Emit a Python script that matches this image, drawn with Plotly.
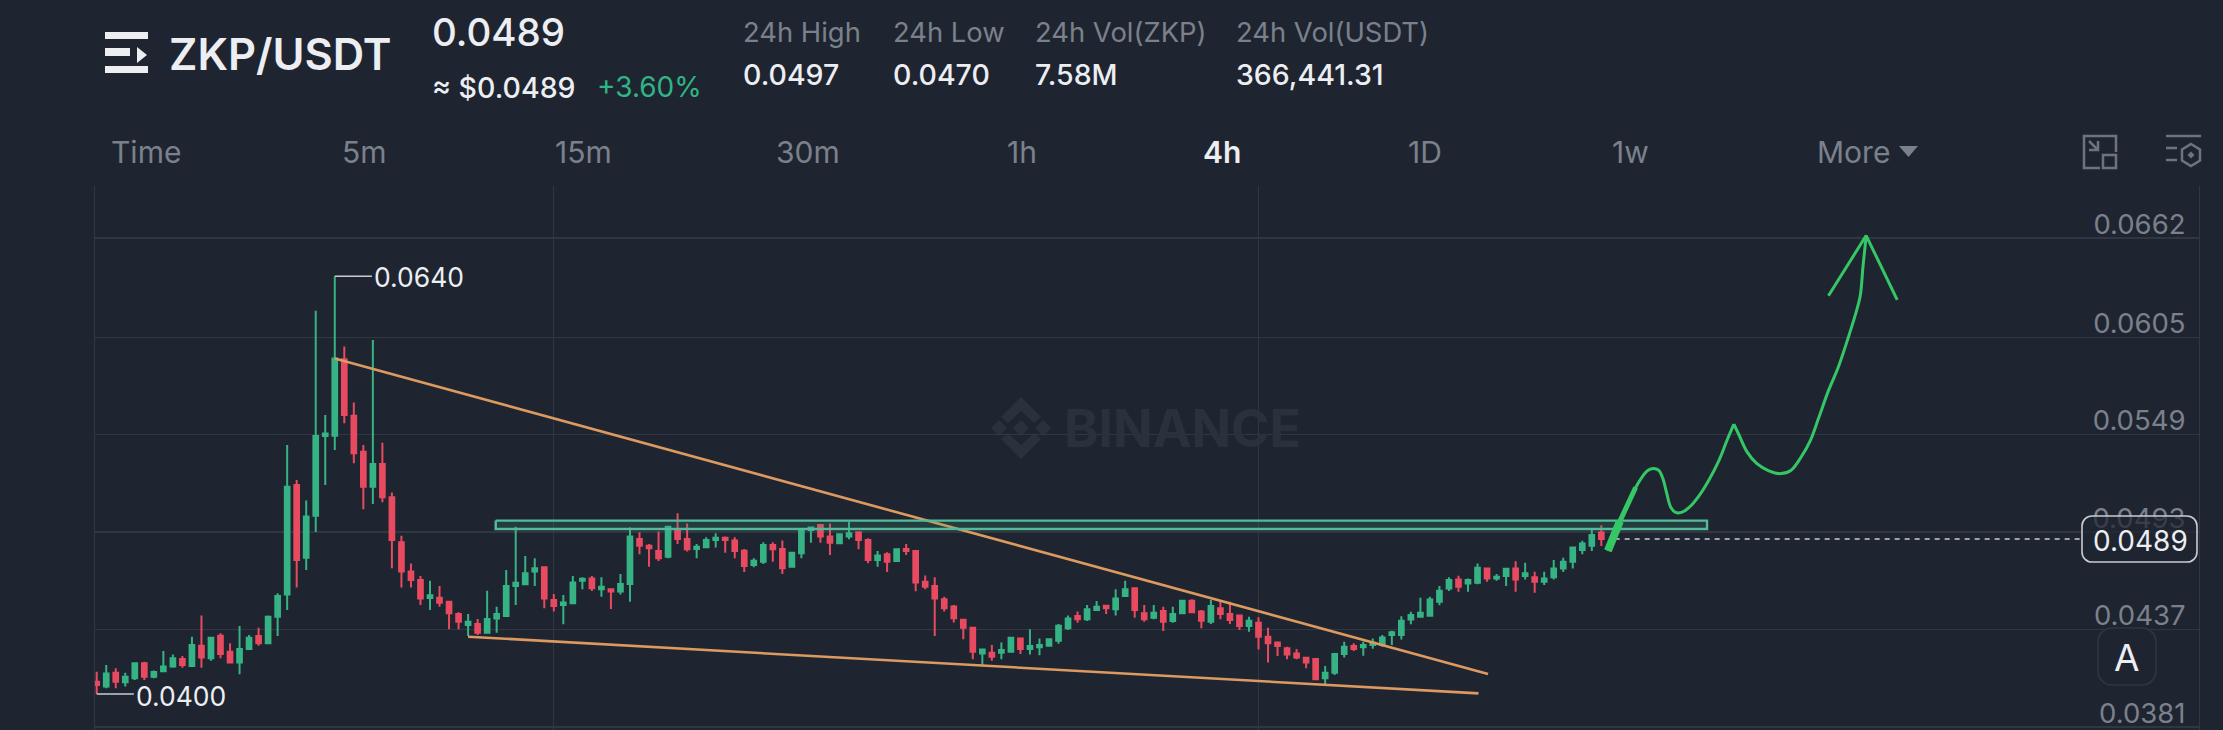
import plotly.graph_objects as go

# ---------- data ----------
candle_open = [
0.04070,0.04042,0.04122,0.04067,0.04090,0.04176,0.04099,0.04130,0.04157,0.04201,
0.04160,0.04277,0.04205,0.04335,0.04243,0.04180,0.04258,0.04333,0.04291,0.04444,
0.04572,0.05201,0.04783,0.05024,0.05482,0.05484,0.05923,0.05599,0.05392,0.05191,
0.05321,0.05130,0.04871,0.04703,0.04655,0.04551,0.04553,0.04530,0.04459,0.04396,
0.04402,0.04352,0.04434,0.04448,0.04620,0.04630,0.04703,0.04728,0.04540,0.04511,
0.04521,0.04651,0.04664,0.04601,0.04601,0.04588,0.04632,0.04890,0.04852,0.04821,
0.04789,0.04938,0.04890,0.04833,0.04843,0.04885,0.04898,0.04881,0.04823,0.04741,
0.04760,0.04856,0.04833,0.04731,0.04808,0.04942,0.04971,0.04904,0.04866,0.04904,
0.04929,0.04885,0.04770,0.04802,0.04764,0.04833,0.04821,0.04645,0.04620,0.04544,
0.04502,0.04427,0.04381,0.04233,0.04237,0.04237,0.04243,0.04319,0.04258,0.04268,
0.04277,0.04306,0.04377,0.04448,0.04429,0.04482,0.04507,0.04486,0.04563,0.04607,
0.04463,0.04438,0.04476,0.04419,0.04463,0.04536,0.04473,0.04415,0.04492,0.04459,
0.04450,0.04390,0.04409,0.04329,0.04296,0.04262,0.04233,0.04208,0.04201,0.04090,
0.04122,0.04229,0.04275,0.04268,0.04281,0.04281,0.04338,0.04338,0.04428,0.04444,
0.04449,0.04530,0.04606,0.04658,0.04635,0.04639,0.04721,0.04664,0.04677,0.04721,
0.04677,0.04670,0.04645,0.04670,0.04721,0.04760,0.04827,0.04852,0.04928]
candle_close = [
0.04051,0.04118,0.04070,0.04099,0.04176,0.04099,0.04126,0.04157,0.04205,0.04166,
0.04281,0.04210,0.04323,0.04229,0.04180,0.04258,0.04323,0.04291,0.04444,0.04563,
0.05191,0.04770,0.05019,0.05482,0.05497,0.05928,0.05603,0.05383,0.05191,0.05321,
0.05130,0.04884,0.04703,0.04655,0.04549,0.04567,0.04524,0.04463,0.04415,0.04415,
0.04352,0.04431,0.04459,0.04620,0.04639,0.04693,0.04722,0.04549,0.04505,0.04526,
0.04641,0.04662,0.04607,0.04616,0.04588,0.04632,0.04904,0.04852,0.04837,0.04779,
0.04961,0.04890,0.04831,0.04846,0.04885,0.04898,0.04885,0.04821,0.04735,0.04766,
0.04856,0.04831,0.04722,0.04812,0.04946,0.04956,0.04904,0.04869,0.04917,0.04923,
0.04885,0.04770,0.04795,0.04760,0.04831,0.04821,0.04641,0.04616,0.04549,0.04492,
0.04435,0.04381,0.04243,0.04256,0.04214,0.04252,0.04323,0.04258,0.04275,0.04281,
0.04314,0.04392,0.04434,0.04429,0.04486,0.04501,0.04492,0.04549,0.04601,0.04482,
0.04429,0.04467,0.04415,0.04459,0.04536,0.04469,0.04421,0.04505,0.04459,0.04425,
0.04390,0.04421,0.04329,0.04291,0.04275,0.04227,0.04210,0.04181,0.04084,0.04122,
0.04229,0.04271,0.04258,0.04281,0.04294,0.04325,0.04354,0.04421,0.04453,0.04467,
0.04543,0.04593,0.04654,0.04616,0.04654,0.04725,0.04664,0.04673,0.04719,0.04658,
0.04693,0.04645,0.04664,0.04721,0.04760,0.04842,0.04865,0.04913,0.04890]
candle_high = [
0.04128,0.04166,0.04147,0.04122,0.04180,0.04185,0.04134,0.04247,0.04227,0.04218,
0.04329,0.04450,0.04323,0.04348,0.04291,0.04390,0.04339,0.04381,0.04450,0.04578,
0.05430,0.05229,0.05111,0.06202,0.05603,0.06400,0.05996,0.05674,0.05430,0.06034,
0.05444,0.05158,0.04909,0.04750,0.04678,0.04651,0.04620,0.04530,0.04469,0.04459,
0.04431,0.04593,0.04501,0.04712,0.04961,0.04793,0.04779,0.04731,0.04574,0.04569,
0.04678,0.04670,0.04678,0.04670,0.04607,0.04689,0.04957,0.04929,0.04862,0.04933,
0.04967,0.05038,0.04980,0.04862,0.04900,0.04923,0.04904,0.04900,0.04833,0.04779,
0.04871,0.04871,0.04881,0.04812,0.04952,0.04961,0.04971,0.04980,0.04923,0.04990,
0.04933,0.04894,0.04821,0.04814,0.04831,0.04862,0.04821,0.04680,0.04670,0.04559,
0.04511,0.04430,0.04383,0.04260,0.04281,0.04296,0.04329,0.04323,0.04371,0.04319,
0.04319,0.04402,0.04450,0.04473,0.04511,0.04534,0.04511,0.04601,0.04651,0.04612,
0.04511,0.04511,0.04501,0.04501,0.04540,0.04544,0.04482,0.04540,0.04530,0.04530,
0.04450,0.04444,0.04440,0.04381,0.04300,0.04271,0.04258,0.04214,0.04201,0.04160,
0.04229,0.04300,0.04291,0.04300,0.04319,0.04338,0.04363,0.04447,0.04472,0.04553,
0.04559,0.04620,0.04670,0.04679,0.04664,0.04750,0.04721,0.04689,0.04721,0.04763,
0.04754,0.04702,0.04702,0.04769,0.04783,0.04842,0.04880,0.04942,0.04970]
candle_low = [
0.04000,0.04032,0.04032,0.04042,0.04080,0.04080,0.04090,0.04126,0.04151,0.04151,
0.04157,0.04151,0.04191,0.04205,0.04176,0.04113,0.04252,0.04277,0.04287,0.04333,
0.04482,0.04611,0.04712,0.04930,0.05201,0.05402,0.05555,0.05325,0.05061,0.05091,
0.05101,0.04722,0.04611,0.04612,0.04511,0.04482,0.04501,0.04371,0.04371,0.04333,
0.04339,0.04348,0.04352,0.04444,0.04511,0.04626,0.04620,0.04492,0.04473,0.04400,
0.04517,0.04601,0.04592,0.04559,0.04488,0.04572,0.04530,0.04802,0.04731,0.04764,
0.04779,0.04862,0.04818,0.04779,0.04841,0.04841,0.04812,0.04779,0.04701,0.04728,
0.04747,0.04760,0.04689,0.04731,0.04779,0.04869,0.04869,0.04798,0.04860,0.04889,
0.04831,0.04751,0.04731,0.04701,0.04764,0.04798,0.04590,0.04601,0.04333,0.04473,
0.04410,0.04314,0.04199,0.04166,0.04191,0.04199,0.04239,0.04229,0.04227,0.04222,
0.04271,0.04289,0.04367,0.04409,0.04419,0.04476,0.04459,0.04450,0.04559,0.04438,
0.04415,0.04429,0.04362,0.04409,0.04459,0.04463,0.04377,0.04402,0.04429,0.04402,
0.04367,0.04358,0.04256,0.04180,0.04218,0.04199,0.04199,0.04147,0.04080,0.04057,
0.04109,0.04210,0.04247,0.04220,0.04260,0.04271,0.04281,0.04313,0.04400,0.04440,
0.04447,0.04509,0.04591,0.04587,0.04587,0.04631,0.04645,0.04650,0.04620,0.04587,
0.04658,0.04581,0.04626,0.04658,0.04700,0.04721,0.04802,0.04821,0.04850]
candle_index = list(range(len(candle_open)))

price_ticks = [0.0662, 0.0605, 0.0549, 0.0493, 0.0437, 0.0381]
time_grid = [48, 122]
last_price = 0.0489
high_mark = 0.0640
low_mark = 0.0400

trend_upper_x = [25, 146.1]
trend_upper_y = [0.05928, 0.04114]
trend_lower_x = [39, 145.1]
trend_lower_y = [0.04329, 0.04003]

zone_x = [41.9, 169.1, 169.1, 41.9, 41.9]
zone_y = [0.04996, 0.04996, 0.04948, 0.04948, 0.04996]

path_x = [158.69,159.32,159.95,160.78,161.61,162.24,162.87,163.49,164.03,164.45,164.87,165.29,
          165.79,166.41,167.25,168.29,169.33,170.38,171.21,171.92]
path_y = [0.04823,0.04914,0.04993,0.05084,0.05186,0.05243,0.05284,0.05295,0.05284,0.05239,0.05152,0.05073,
          0.05043,0.05043,0.05073,0.05141,0.05232,0.05345,0.05459,0.05550]
path2_x = [171.92,172.46,173.30,174.34,175.59,176.84,177.89,178.93,179.97,180.81,181.85,182.89,183.94,
           184.77,185.19,185.48,185.81]
path2_y = [0.05550,0.05488,0.05391,0.05323,0.05282,0.05266,0.05284,0.05357,0.05459,0.05584,0.05743,0.05879,0.06050,
           0.06197,0.06288,0.06459,0.06629]
arrow_x = [181.85, 185.81, 189.07]
arrow_y = [0.06288, 0.06634, 0.06265]
thick_x = [158.69, 159.32, 159.95]
thick_y = [0.04823, 0.04914, 0.04993]
mid_x = [158.69, 159.95, 161.6]
mid_y = [0.04823, 0.04993, 0.05186]

header_quote = "ZKP/USDT"
header_price = "0.0489"
header_usd = "≈ $0.0489"
header_change = "+3.60%"
stat_titles = ["24h High", "24h Low", "24h Vol(ZKP)", "24h Vol(USDT)"]
stat_values = ["0.0497", "0.0470", "7.58M", "366,441.31"]
tabs = ["Time", "5m", "15m", "30m", "1h", "4h", "1D", "1w", "More"]

# ---------- style ----------
BG = "#1f2530"
GRID = "#303742"
UP = "#36b384"
DOWN = "#e84a60"
ORANGE = "#dd9a60"
DRAW = "#35c765"
WHITE = "#eceef2"
GREY = "#7b818c"
FONT = "Inter"

W, H = 2223, 730
L, R, T, B = 95, 2199, 186, 730
px_per_bar = 9.523
px_per_price = 17402.0

def X(p):
    return (p - L) / (R - L)

def Y(p):
    return 1 - (p - T) / (B - T)

def path(points, close=True):
    d = "M" + " L".join(f"{X(a):.5f},{Y(b):.5f}" for a, b in points)
    return d + (" Z" if close else "")

def round_rect(x0, y0, x1, y1, r):
    c = 0.45 * r
    pts = [
        f"M{X(x0+r):.5f},{Y(y0):.5f}", f"L{X(x1-r):.5f},{Y(y0):.5f}",
        f"C{X(x1-c):.5f},{Y(y0):.5f} {X(x1):.5f},{Y(y0+c):.5f} {X(x1):.5f},{Y(y0+r):.5f}",
        f"L{X(x1):.5f},{Y(y1-r):.5f}",
        f"C{X(x1):.5f},{Y(y1-c):.5f} {X(x1-c):.5f},{Y(y1):.5f} {X(x1-r):.5f},{Y(y1):.5f}",
        f"L{X(x0+r):.5f},{Y(y1):.5f}",
        f"C{X(x0+c):.5f},{Y(y1):.5f} {X(x0):.5f},{Y(y1-c):.5f} {X(x0):.5f},{Y(y1-r):.5f}",
        f"L{X(x0):.5f},{Y(y0+r):.5f}",
        f"C{X(x0):.5f},{Y(y0+c):.5f} {X(x0+c):.5f},{Y(y0):.5f} {X(x0+r):.5f},{Y(y0):.5f} Z",
    ]
    return " ".join(pts)

fig = go.Figure()

fig.add_trace(go.Candlestick(
    x=candle_index, open=candle_open, high=candle_high, low=candle_low, close=candle_close,
    increasing=dict(line=dict(color=UP, width=2), fillcolor=UP),
    decreasing=dict(line=dict(color=DOWN, width=2), fillcolor=DOWN),
    whiskerwidth=0, hoverinfo="skip",
))

def line(x, y, color, width, dash=None, shape="linear", **kw):
    fig.add_trace(go.Scatter(x=x, y=y, mode="lines", hoverinfo="skip",
                             line=dict(color=color, width=width, dash=dash, shape=shape), **kw))

line(trend_upper_x, trend_upper_y, ORANGE, 2.6)
line(trend_lower_x, trend_lower_y, ORANGE, 2.6)
line(zone_x, zone_y, "#57b99c", 2.4, fill="toself", fillcolor="rgba(50,170,130,0.18)")
line([candle_index[-1] + 1.4, 208.5], [last_price, last_price], "#c9ccd2", 1.6, dash="5px,5px")
line([25, 28.9], [high_mark, high_mark], "#c9ccd2", 1.6)
line([0, 3.9], [low_mark, low_mark], "#c9ccd2", 1.6)
line(path_x, path_y, DRAW, 3, shape="spline")
line(path2_x, path2_y, DRAW, 3, shape="spline")
line(arrow_x, arrow_y, DRAW, 3)
line(mid_x, mid_y, DRAW, 5)
line(thick_x, thick_y, DRAW, 8)

fig.update_layout(
    width=W, height=H, autosize=False, showlegend=False,
    paper_bgcolor=BG, plot_bgcolor=BG, boxgap=0.3,
    margin=dict(l=L, r=W - R, t=T, b=H - B, pad=0),
    font=dict(family=FONT, color=WHITE),
    xaxis=dict(range=[(L - 96.7) / px_per_bar, (R - 96.7) / px_per_bar],
               tickvals=time_grid, showticklabels=False, ticks="",
               showgrid=True, gridcolor=GRID, gridwidth=1.2, zeroline=False, showline=False,
               rangeslider=dict(visible=False), fixedrange=True),
    yaxis=dict(range=[0.0662 - (B - 238) / px_per_price, 0.0662 + (238 - T) / px_per_price],
               side="right", tickvals=price_ticks, tickformat=".4f",
               ticklabelposition="inside", ticklabelstandoff=16, ticklabelshift=-14,
               tickfont=dict(size=27.5, color=GREY, family=FONT), ticks="",
               showgrid=True, gridcolor=GRID, gridwidth=1.2, zeroline=False,
               showline=True, mirror=True, linecolor=GRID, linewidth=1.2, fixedrange=True),
)

def text(s, px, py, size, color=WHITE, anchor="left", weight=400):
    fig.add_annotation(text=s, x=X(px), y=Y(py), xref="paper", yref="paper", showarrow=False,
                       xanchor=anchor, yanchor="middle", borderpad=0,
                       font=dict(size=size, color=color, family=FONT, weight=weight))

# header
text(header_quote, 168, 54, 43.5, WHITE, weight=600)
text(header_price, 431, 32, 38.5, WHITE, weight=500)
text(header_usd, 431, 87, 28.5, WHITE, weight=500)
text(header_change, 596, 87, 28, "#2fb585", weight=400)
for title, value, px in zip(stat_titles, stat_values, [742, 892, 1034, 1235]):
    text(title, px, 32, 27.4, GREY)
    text(value, px, 75, 28.5, WHITE, weight=500)

for tab, px in zip(tabs, [146, 364, 583, 808, 1022, 1222, 1425, 1630, 1853]):
    on = tab == "4h"
    text(tab, px, 152, 30, WHITE if on else GREY, "center", 600 if on else 400)

# marks
fig.add_annotation(text=f"{high_mark:.4f}", x=28.9, y=high_mark, xref="x", yref="y", yshift=-1, showarrow=False,
                   xanchor="left", yanchor="middle", font=dict(size=26.5, color=WHITE, family=FONT))
fig.add_annotation(text=f"{low_mark:.4f}", x=3.9, y=low_mark, xref="x", yref="y", yshift=-2, showarrow=False,
                   xanchor="left", yanchor="middle", font=dict(size=26.5, color=WHITE, family=FONT))

shapes = []
def shape(d, fill=None, color=None, width=0, layer="above"):
    shapes.append(dict(type="path", path=d, xref="paper", yref="paper", layer=layer,
                       fillcolor=fill if fill else "rgba(0,0,0,0)",
                       line=dict(color=color if color else "rgba(0,0,0,0)", width=width)))

# logo
LOGO = "#eceef2"
shape(path([(105, 32), (148, 32), (148, 39), (105, 39)]), LOGO)
shape(path([(105, 48), (130, 48), (130, 56), (105, 56)]), LOGO)
shape(path([(137, 47), (147, 55), (137, 63)]), LOGO)
shape(path([(105, 66), (148, 66), (148, 73), (105, 73)]), LOGO)

# more arrow
shape(path([(1899, 146), (1918, 146), (1908.5, 157)]), GREY)

# expand icon
IC = "#6d7380"
shape(path([(2100, 168), (2084, 168), (2084, 136), (2116, 136), (2116, 152)], False), None, IC, 2.5)
shape(path([(2103, 155), (2116, 155), (2116, 168), (2103, 168)]), None, IC, 2.5)
shape(path([(2089, 141), (2098, 150)], False), None, IC, 2.5)
shape(path([(2089, 150), (2098, 150), (2098, 141)], False), None, IC, 2.5)

# settings icon
shape(path([(2166, 136), (2201, 136)], False), None, IC, 2.5)
shape(path([(2166, 148), (2177, 148)], False), None, IC, 2.5)
shape(path([(2166, 160), (2177, 160)], False), None, IC, 2.5)
shape(path([(2191, 144), (2200, 149.5), (2200, 160.5), (2191, 166), (2182, 160.5), (2182, 149.5)]), None, IC, 2.5)
shape(path([(2191, 151.5), (2194.5, 155), (2191, 158.5), (2187.5, 155)]), IC)

# watermark
WM = "#2a313d"
cx, cy = 1021, 428
for a, b, r in [(0, 0, 8), (-22, 0, 8), (22, 0, 8)]:
    shape(path([(cx + a, cy + b - r), (cx + a + r, cy + b), (cx + a, cy + b + r), (cx + a - r, cy + b)]), WM, layer="below")
shape(path([(cx, cy - 31), (cx + 20, cy - 11), (cx + 13, cy - 5), (cx, cy - 17), (cx - 13, cy - 5), (cx - 20, cy - 11)]), WM, layer="below")
shape(path([(cx, cy + 31), (cx + 20, cy + 11), (cx + 13, cy + 5), (cx, cy + 17), (cx - 13, cy + 5), (cx - 20, cy + 11)]), WM, layer="below")
text("BINANCE", 1063, 428, 52, WM, weight=700)

# last-price tag and auto button
shape(round_rect(2082, 516, 2197, 562, 10), "rgba(31,37,48,0.72)", "#c9ccd2", 1.6)
text(f"{last_price:.4f}", 2140, 541, 28, WHITE, "center")
shape(round_rect(2098, 628, 2156, 685, 14), BG, "#2f3642", 1.6)
text("A", 2127, 657, 37, WHITE, "center")

fig.update_layout(shapes=shapes)

fig.write_html("out.html", config=dict(displayModeBar=False, staticPlot=True),
               post_script="document.body.style.margin='0';document.body.style.background='#1f2530';document.documentElement.style.overflow='hidden';")
